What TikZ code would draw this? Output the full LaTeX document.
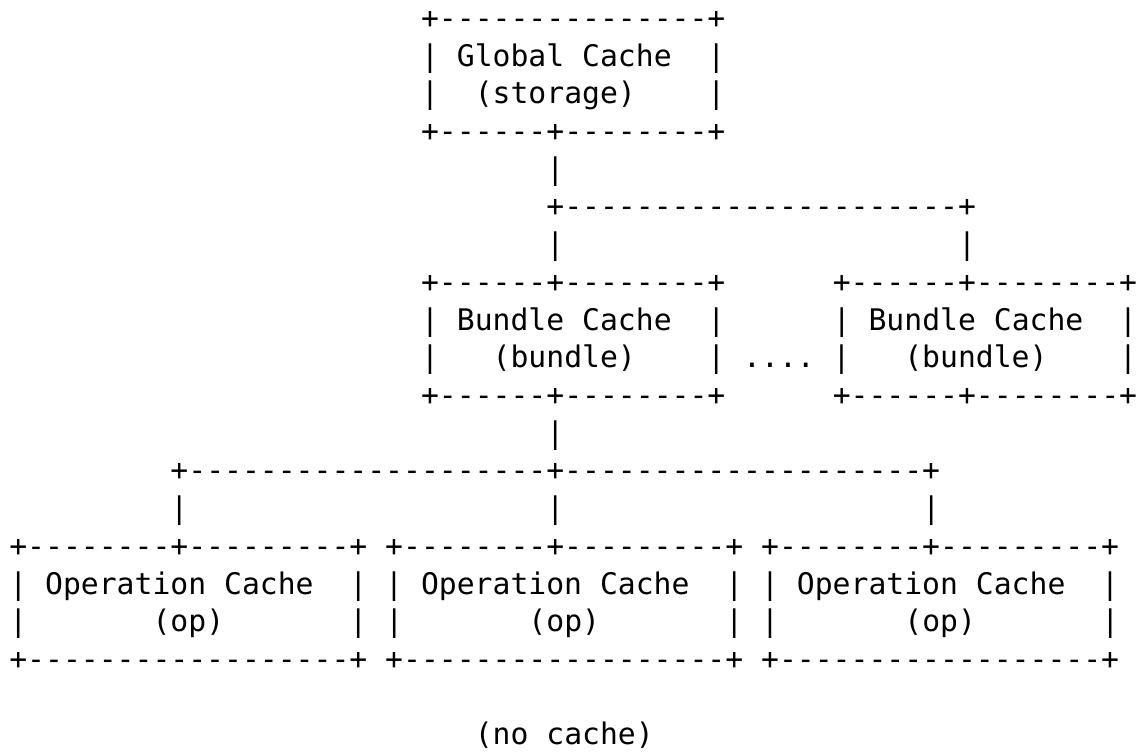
\documentclass[tikz,border=0pt]{standalone}
\usepackage{fontspec}
\newfontfamily\asciifont{DejaVu Sans Mono}[Ligatures=TeXOff]
\begin{document}
\begin{tikzpicture}[x=0.75pt,y=-0.75pt,
  asciiline/.style={anchor=base west,inner sep=0pt,outer sep=0pt,
    font=\asciifont\fontsize{22.3pt}{28pt}\selectfont}]
\fill[white] (0,0) rectangle (1145,752);
\path[use as bounding box] (0,0) rectangle (1145,752);
\def\cx#1{9.35+#1*17.9}
\def\ry#1{28.5+(#1-1)*37.7}
\node[asciiline] (r1)  at ({\cx{23}},{\ry{1}})  {+---------------+};
\node[asciiline] (r2)  at ({\cx{23}},{\ry{2}})  {|~Global~Cache~~|};
\node[asciiline] (r3)  at ({\cx{23}},{\ry{3}})  {|~~(storage)~~~~|};
\node[asciiline] (r4)  at ({\cx{23}},{\ry{4}})  {+------+--------+};
\node[asciiline] (r5)  at ({\cx{30}},{\ry{5}})  {|};
\node[asciiline] (r6)  at ({\cx{30}},{\ry{6}})  {+----------------------+};
\node[asciiline] (r7)  at ({\cx{30}},{\ry{7}})  {|~~~~~~~~~~~~~~~~~~~~~~|};
\node[asciiline] (r8)  at ({\cx{23}},{\ry{8}})  {+------+--------+~~~~~~+------+--------+};
\node[asciiline] (r9)  at ({\cx{23}},{\ry{9}})  {|~Bundle~Cache~~|~~~~~~|~Bundle~Cache~~|};
\node[asciiline] (r10) at ({\cx{23}},{\ry{10}}) {|~~~(bundle)~~~~|~....~|~~~(bundle)~~~~|};
\node[asciiline] (r11) at ({\cx{23}},{\ry{11}}) {+------+--------+~~~~~~+------+--------+};
\node[asciiline] (r12) at ({\cx{30}},{\ry{12}}) {|};
\node[asciiline] (r13) at ({\cx{9}},{\ry{13}})  {+--------------------+--------------------+};
\node[asciiline] (r14) at ({\cx{9}},{\ry{14}})  {|~~~~~~~~~~~~~~~~~~~~|~~~~~~~~~~~~~~~~~~~~|};
\node[asciiline] (r15) at ({\cx{0}},{\ry{15}})  {+--------+---------+~+--------+---------+~+--------+---------+};
\node[asciiline] (r16) at ({\cx{0}},{\ry{16}})  {|~Operation~Cache~~|~|~Operation~Cache~~|~|~Operation~Cache~~|};
\node[asciiline] (r17) at ({\cx{0}},{\ry{17}})  {|~~~~~~~(op)~~~~~~~|~|~~~~~~~(op)~~~~~~~|~|~~~~~~~(op)~~~~~~~|};
\node[asciiline] (r18) at ({\cx{0}},{\ry{18}})  {+------------------+~+------------------+~+------------------+};
\node[asciiline] (r20) at ({\cx{26}},{\ry{20}}) {(no~cache)};
\end{tikzpicture}
\end{document}
